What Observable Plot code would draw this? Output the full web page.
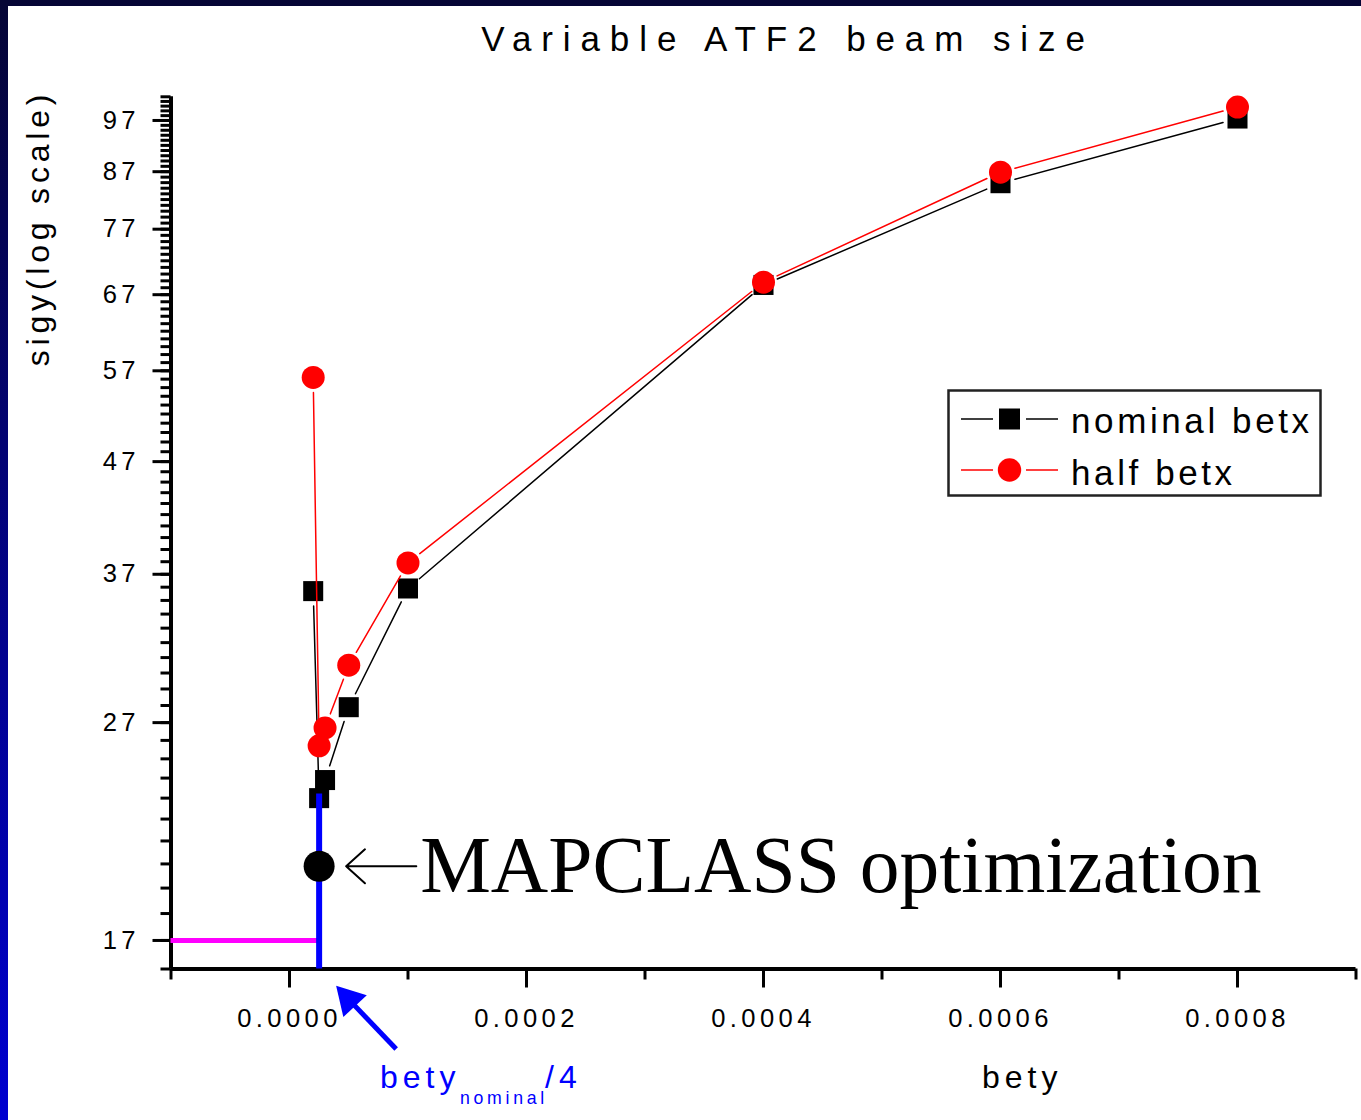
<!DOCTYPE html>
<html><head><meta charset="utf-8">
<script src="https://cdn.jsdelivr.net/npm/d3@7"></script>
<script src="https://cdn.jsdelivr.net/npm/@observablehq/plot@0.6"></script>
<style>
html,body{margin:0;padding:0;background:#fff;}
#frame{position:relative;width:1361px;height:1120px;background:linear-gradient(#050535,#0000d0);overflow:hidden;}
#inner{position:absolute;left:8px;top:6px;width:1353px;height:1114px;background:#fff;}
#inner svg{display:block;}
</style></head><body>
<div id="frame"><div id="inner"></div></div>
<script>
// ---- data ----
const betyValues = [0.00002, 0.000025, 0.00003, 0.00005, 0.0001, 0.0004, 0.0006, 0.0008];
const nominalBetx = [35.7, 23.0, 23.9, 27.9, 35.9, 68.4, 84.9, 97.4];
const halfBetx = [56.2, 25.7, 26.7, 30.5, 37.9, 68.8, 86.9, 99.8];
const seriesNames = ["nominal betx", "half betx"];
const mapclassBety = 0.000025;
const mapclassSigy = 19.9;
const betyNominalQuarter = 0.000025;
const blueLineTop = 23.2;
const magentaSigy = 17;
const yMajorTicks = [17, 27, 37, 47, 57, 67, 77, 87, 97];
const yMinorTicks = d3.range(16, 103);
const xMajorTicks = [0, 0.0002, 0.0004, 0.0006, 0.0008];
const xMinorTicks = [-0.0001, 0.0001, 0.0003, 0.0005, 0.0007, 0.0009];
const xDomain = [-0.0001, 0.0009];
const yDomain = [16, 102];
const titleText = "Variable ATF2 beam size";
const xLabel = "bety";
const yLabel = "sigy(log scale)";
const annotationText = "MAPCLASS optimization";
const annotationArrowFrom = 0.000107;
// blue pointer arrow (data space, below the axis)
const pointerStart = {x: 0.00009, y: 13.5};
const pointerHead = {x: 0.00005, y: 15.0};

const sans = "'Liberation Sans', Arial, sans-serif";
const serif = "'Liberation Serif', 'Times New Roman', serif";

function segments(ys) {
  return betyValues.slice(1).map((x, i) => ({x1: betyValues[i], y1: ys[i], x2: x, y2: ys[i + 1]}));
}
const nominalPts = betyValues.map((x, i) => ({x, y: nominalBetx[i]}));
const halfPts = betyValues.map((x, i) => ({x, y: halfBetx[i]}));

const plot = Plot.plot({
  width: 1353, height: 1114,
  marginLeft: 162.5, marginRight: 5.5, marginTop: 90.3, marginBottom: 151.5,
  style: {fontFamily: sans, background: "transparent", color: "#000", overflow: "visible"},
  x: {domain: xDomain},
  y: {type: "log", domain: yDomain},
  marks: [
    Plot.axisY({ticks: yMinorTicks, tickSize: 10, strokeWidth: 3, tickFormat: () => "", label: null}),
    Plot.axisY({ticks: yMajorTicks, tickSize: 18, tickPadding: 13, strokeWidth: 3, fontSize: 25.6, tickFormat: d => String(d), label: null}),
    Plot.axisX({ticks: xMinorTicks, tickSize: 11, strokeWidth: 3, tickFormat: () => "", label: null}),
    Plot.axisX({ticks: xMajorTicks, tickSize: 19, tickPadding: 20.5, strokeWidth: 3, fontSize: 25.6, tickFormat: d3.format(".4f"), label: null}),
    Plot.ruleX([xDomain[0]], {strokeWidth: 4, stroke: "#000"}),
    Plot.ruleY([yDomain[0]], {strokeWidth: 4, stroke: "#000"}),
    Plot.ruleY([{y: magentaSigy, x1: xDomain[0], x2: betyNominalQuarter}], {y: "y", x1: "x1", x2: "x2", stroke: "#ff00ff", strokeWidth: 5}),
    Plot.arrow(segments(nominalBetx), {x1: "x1", y1: "y1", x2: "x2", y2: "y2", stroke: "#000", strokeWidth: 1.5, headLength: 0, insetStart: 15, insetEnd: 15}),
    Plot.dot(nominalPts, {x: "x", y: "y", symbol: "square", r: 11.3, fill: "#000", stroke: "none"}),
    Plot.arrow(segments(halfBetx), {x1: "x1", y1: "y1", x2: "x2", y2: "y2", stroke: "#ff0000", strokeWidth: 1.5, headLength: 0, insetStart: 15, insetEnd: 15}),
    Plot.dot(halfPts, {x: "x", y: "y", symbol: "circle", r: 11.5, fill: "#ff0000", stroke: "none"}),
    Plot.ruleX([{x: betyNominalQuarter, y1: yDomain[0], y2: blueLineTop}], {x: "x", y1: "y1", y2: "y2", stroke: "#0000ff", strokeWidth: 6}),
    Plot.dot([{x: mapclassBety, y: mapclassSigy}], {x: "x", y: "y", r: 15.5, fill: "#000", stroke: "none"}),
    Plot.arrow([{x1: annotationArrowFrom, x2: mapclassBety, y: mapclassSigy}], {x1: "x1", x2: "x2", y1: "y", y2: "y", stroke: "#000", strokeWidth: 2, headLength: 19, headAngle: 84, insetEnd: 27}),
    Plot.text([{x: mapclassBety, y: mapclassSigy}], {x: "x", y: "y", text: () => annotationText, textAnchor: "start", dx: 101, fontSize: 79.5, fontFamily: serif, fill: "#000"}),
    Plot.link([{x1: pointerStart.x, y1: pointerStart.y, x2: pointerHead.x, y2: pointerHead.y}], {x1: "x1", y1: "y1", x2: "x2", y2: "y2", stroke: "#0000ff", strokeWidth: 5}),
    Plot.dot([pointerHead], {x: "x", y: "y", symbol: "triangle", r: 11.9, rotate: -43, fill: "#0000ff", stroke: "none"})
  ]
});
document.getElementById("inner").appendChild(plot);

const svg = d3.select(plot);
svg.selectAll('g[aria-label="x-axis tick label"] text, g[aria-label="y-axis tick label"] text')
  .style("letter-spacing", "4.4px");

function addText(x, y, str, size, spacing, color, anchor) {
  return svg.append("text").attr("x", x).attr("y", y).attr("text-anchor", anchor || "start")
    .style("font-family", sans).style("font-size", size + "px").style("letter-spacing", spacing + "px")
    .attr("fill", color || "#000").text(str);
}
// title
addText(780, 45, titleText, 35, 9.9, "#000", "middle");
// y label
svg.append("text").attr("transform", "translate(41,222) rotate(-90)").attr("text-anchor", "middle")
  .style("font-family", sans).style("font-size", "32px").style("letter-spacing", "4.8px").attr("fill", "#000").text(yLabel);
// x label
addText(974, 1082, xLabel, 32, 5);
// bety_nominal/4
const blue = "#0000ff";
addText(372, 1082, "bety", 32, 5, blue);
addText(452, 1098, "nominal", 17.7, 3.7, blue);
addText(537, 1082, "/4", 32, 5, blue);

// legend
const lg = svg.append("g");
lg.append("rect").attr("x", 940.5).attr("y", 384.5).attr("width", 372).attr("height", 105)
  .attr("fill", "#fff").attr("stroke", "#222").attr("stroke-width", 2.5);
const rows = [{name: seriesNames[0], color: "#000", sym: "square", y: 413, ty: 427},
              {name: seriesNames[1], color: "#ff0000", sym: "circle", y: 464, ty: 479}];
rows.forEach(r => {
  lg.append("line").attr("x1", 953).attr("x2", 985).attr("y1", r.y).attr("y2", r.y).attr("stroke", r.color).attr("stroke-width", 1.5);
  lg.append("line").attr("x1", 1018).attr("x2", 1050).attr("y1", r.y).attr("y2", r.y).attr("stroke", r.color).attr("stroke-width", 1.5);
  if (r.sym === "square") lg.append("rect").attr("x", 991).attr("y", r.y - 10.5).attr("width", 21).attr("height", 21).attr("fill", r.color);
  else lg.append("circle").attr("cx", 1001.5).attr("cy", r.y).attr("r", 11.7).attr("fill", r.color);
  lg.append("text").attr("x", 1063).attr("y", r.ty).attr("text-anchor", "start").style("font-family", sans).style("font-size", "35px").style("letter-spacing", "3.6px").attr("fill", "#000").text(r.name);
});
</script>
</body></html>
